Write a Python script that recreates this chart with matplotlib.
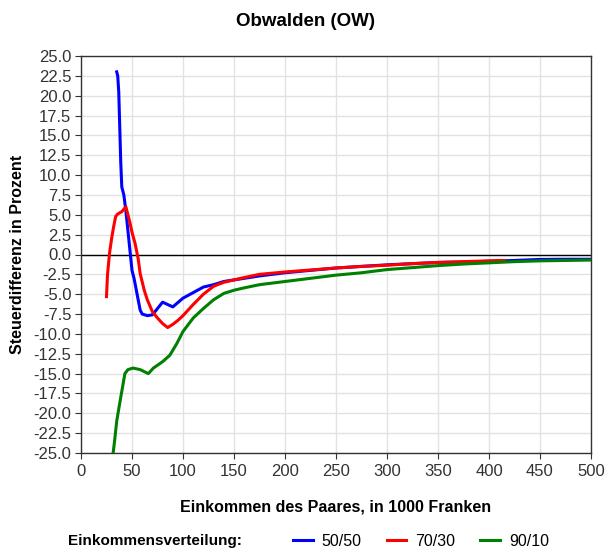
import matplotlib
matplotlib.use("Agg")
import matplotlib.pyplot as plt
from matplotlib.lines import Line2D
import numpy as np

plt.rcParams['font.family'] = ['Liberation Sans', 'DejaVu Sans']

title = "Obwalden (OW)"
xlabel = "Einkommen des Paares, in 1000 Franken"
ylabel = "Steuerdifferenz in Prozent"
legend_title = "Einkommensverteilung:"
series_names = ["50/50", "70/30", "90/10"]
series_colors = ["#0000ff", "#ff0000", "#008000"]

blue_x = [35, 36, 37, 38, 39, 40, 42, 44, 46, 48, 50, 52, 55, 58, 60, 65, 70, 75, 80, 85, 90,
          100, 110, 120, 130, 140, 150, 175, 200, 225, 250, 275, 300, 325, 350, 375, 400,
          425, 450, 475, 500]
blue_y = [23.0, 22.5, 20.5, 16.0, 11.5, 8.5, 7.5, 5.5, 3.0, 0.5, -2.0, -3.0, -5.0, -7.0, -7.5,
          -7.7, -7.6, -6.8, -6.0, -6.3, -6.6, -5.5, -4.8, -4.1, -3.8, -3.4, -3.2, -2.7, -2.3,
          -2.0, -1.7, -1.5, -1.3, -1.15, -1.0, -0.95, -0.85, -0.75, -0.62, -0.6, -0.6]

red_x = [25, 26, 28, 30, 32, 34, 36, 40, 44, 46, 48, 50, 53, 56, 58, 62, 65, 70, 75, 80, 85,
         90, 95, 100, 110, 120, 130, 140, 150, 160, 175, 200, 225, 250, 275, 300, 325, 350,
         375, 400, 415]
red_y = [-5.3, -2.5, 0.2, 2.0, 3.5, 4.8, 5.1, 5.4, 6.0, 5.0, 4.0, 2.8, 1.4, -0.5, -2.4, -4.5,
         -5.7, -7.2, -8.0, -8.7, -9.2, -8.8, -8.3, -7.7, -6.3, -5.0, -4.0, -3.5, -3.2, -2.9,
         -2.5, -2.2, -1.95, -1.7, -1.5, -1.35, -1.15, -1.0, -0.9, -0.8, -0.75]

green_x = [31.5, 33, 35, 38, 41, 43, 46, 51, 58, 66, 71, 80, 87, 94, 100, 110, 120, 130, 140,
           150, 160, 175, 200, 225, 250, 275, 300, 325, 350, 375, 400, 425, 450, 475, 500]
green_y = [-25.0, -23.4, -21.0, -18.7, -16.5, -15.0, -14.5, -14.3, -14.5, -15.0, -14.3, -13.5,
           -12.7, -11.2, -9.7, -8.0, -6.8, -5.7, -4.9, -4.5, -4.2, -3.8, -3.4, -3.0, -2.6,
           -2.3, -1.9, -1.65, -1.4, -1.2, -1.05, -0.9, -0.8, -0.75, -0.7]

x_ticks = list(range(0, 501, 50))
y_ticks = [v / 10 for v in range(-250, 251, 25)]

W, H = 613, 552
fig = plt.figure(figsize=(W / 100, H / 100), dpi=100)
ax = fig.add_axes([81 / W, 1 - 453 / H, 510 / W, 397 / H])

ax.set_xlim(0, 500)
ax.set_ylim(-25, 25)
ax.set_xticks(x_ticks)
ax.set_yticks(y_ticks)
ax.set_yticklabels([f"{v:.1f}" for v in y_ticks])
ax.grid(True, color="#e2e2e2", linewidth=1.0)
ax.set_axisbelow(True)
ax.axhline(0, color="black", linewidth=1.0, zorder=2)

for xs, ys, c in zip([blue_x, red_x, green_x], [blue_y, red_y, green_y], series_colors):
    ax.plot(xs, ys, color=c, linewidth=2.2, zorder=3)

for s in ax.spines.values():
    s.set_color("#333333")
    s.set_linewidth(1.0)
ax.tick_params(axis="both", labelsize=12, length=4, color="#333333", labelcolor="#333333")
ax.tick_params(axis="x", pad=4)
ax.tick_params(axis="y", pad=3)

fig.text(305 / W, 1 - 22 / H, title, ha="center", va="center", fontsize=13.5, fontweight="bold")
fig.text(336 / W, 1 - 507 / H, xlabel, ha="center", va="center", fontsize=11.5, fontweight="bold")
fig.text(18 / W, 1 - 254 / H, ylabel, ha="center", va="center", rotation=90,
         fontsize=11.5, fontweight="bold")

fig.text(68 / W, 1 - 541 / H, legend_title, ha="left", va="center", fontsize=11, fontweight="bold")
handles = [Line2D([0], [0], color=c, linewidth=2.2) for c in series_colors]
fig.legend(handles, series_names, loc="center left", bbox_to_anchor=(293 / W, 1 - 541 / H),
           ncol=3, frameon=False, fontsize=11.5, handlelength=1.25, handletextpad=0.55,
           columnspacing=1.55, borderaxespad=0, borderpad=0)

fig.savefig("out.png", dpi=100)
